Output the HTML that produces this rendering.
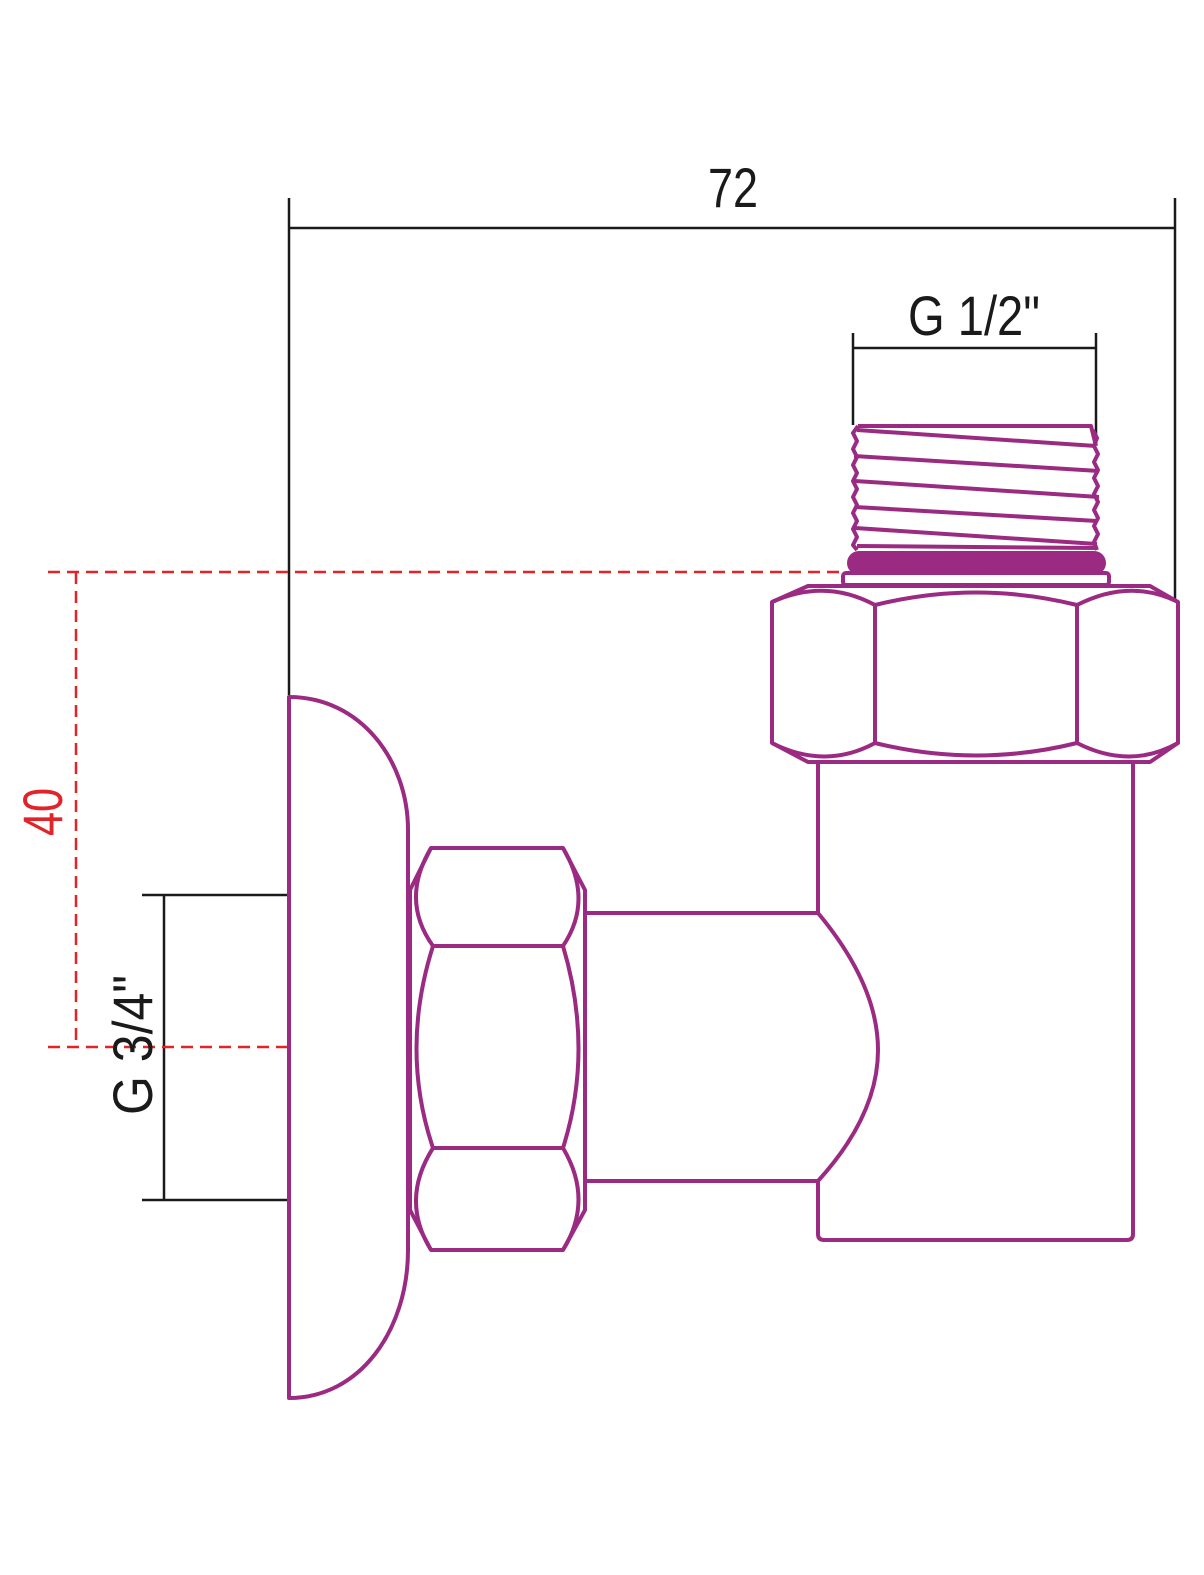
<!DOCTYPE html>
<html><head><style>html,body{margin:0;padding:0;background:#fff}svg{display:block}</style></head>
<body>
<svg width="1204" height="1575" viewBox="0 0 1204 1575" xmlns="http://www.w3.org/2000/svg">
<rect width="1204" height="1575" fill="#fff"/>
<g stroke="#1a1a1a" stroke-width="2.5" fill="none">
<path d="M289 198V695M1175 198V600M289 228H1175"/>
<path d="M853 333V425M1096 333V445M853 348H1096"/>
<path d="M142 895H289M142 1200H289M164 895V1200"/>
</g>
<g stroke="#e0242a" stroke-width="2.5" fill="none" stroke-dasharray="12,7">
<path d="M48 572H842M48 1047H289M76 572V1047"/>
</g>
<g font-family="Liberation Sans, sans-serif" font-size="56" fill="#1a1a1a">
<text x="708" y="207" textLength="50" lengthAdjust="spacingAndGlyphs">72</text>
<text x="908" y="335" textLength="132" lengthAdjust="spacingAndGlyphs">G 1/2"</text>
<text transform="translate(152,1115) rotate(-90)" textLength="140" lengthAdjust="spacingAndGlyphs">G 3/4"</text>
<text transform="translate(62,836) rotate(-90)" fill="#e0242a" textLength="48" lengthAdjust="spacingAndGlyphs">40</text>
</g>
<g stroke="#9b2a82" stroke-width="4" fill="none" stroke-linejoin="round">
<!-- thread -->
<path d="M858 426H1091L1096 446"/>
<path d="M857 430L1096 446M854 456L1099 471M855 481L1099 497M855 507L1097 521M855 528L1097 544M857 546L1096 548"/>
<path d="M858 426L853 433L857 441L853 449L857 457L853 465L857 473L853 481L857 489L853 497L857 505L853 513L857 521L853 529L857 537L853 545L857 550"/>
<path d="M1093 430L1097 438L1094 446L1098 454L1094 462L1098 470L1094 478L1098 486L1094 494L1098 502L1094 510L1098 518L1094 526L1098 534L1094 542L1097 550"/>
<rect x="843" y="573" width="266" height="12" rx="3"/>
<!-- big hex -->
<path d="M808 586H1150L1178 602V743L1150 762H808L772 743V602Z"/>
<path d="M875 605V743M1077 605V743"/>
<path d="M772 602Q825 578 875 605Q976 580 1077 605Q1130 578 1178 602"/>
<path d="M772 743Q825 770 875 743Q976 768 1077 743Q1130 770 1178 743"/>
<!-- body -->
<path d="M818 762V913M818 1181V1234Q818 1240 824 1240H1127Q1133 1240 1133 1234V762"/>
<path d="M585 913H818M585 1181H818"/>
<path d="M818 913Q878 985 878 1050Q878 1115 818 1181"/>
<!-- small hex nut -->
<path d="M410 890L431 848H563L585 890V1210L563 1250H431L410 1210Z"/>
<path d="M433 946H563M433 1148H563"/>
<path d="M431 848Q400 900 433 946Q400 1050 433 1148Q400 1200 431 1250"/>
<path d="M563 848Q594 900 563 946Q594 1050 563 1148Q594 1200 563 1250"/>
<!-- escutcheon -->
<path d="M289 697V1398C360 1398 408 1330 408 1250V830C408 760 360 697 289 697Z"/>
</g>
<rect x="847" y="551" width="259" height="24" rx="12" fill="#9b2a82"/>
</svg>
</body></html>
